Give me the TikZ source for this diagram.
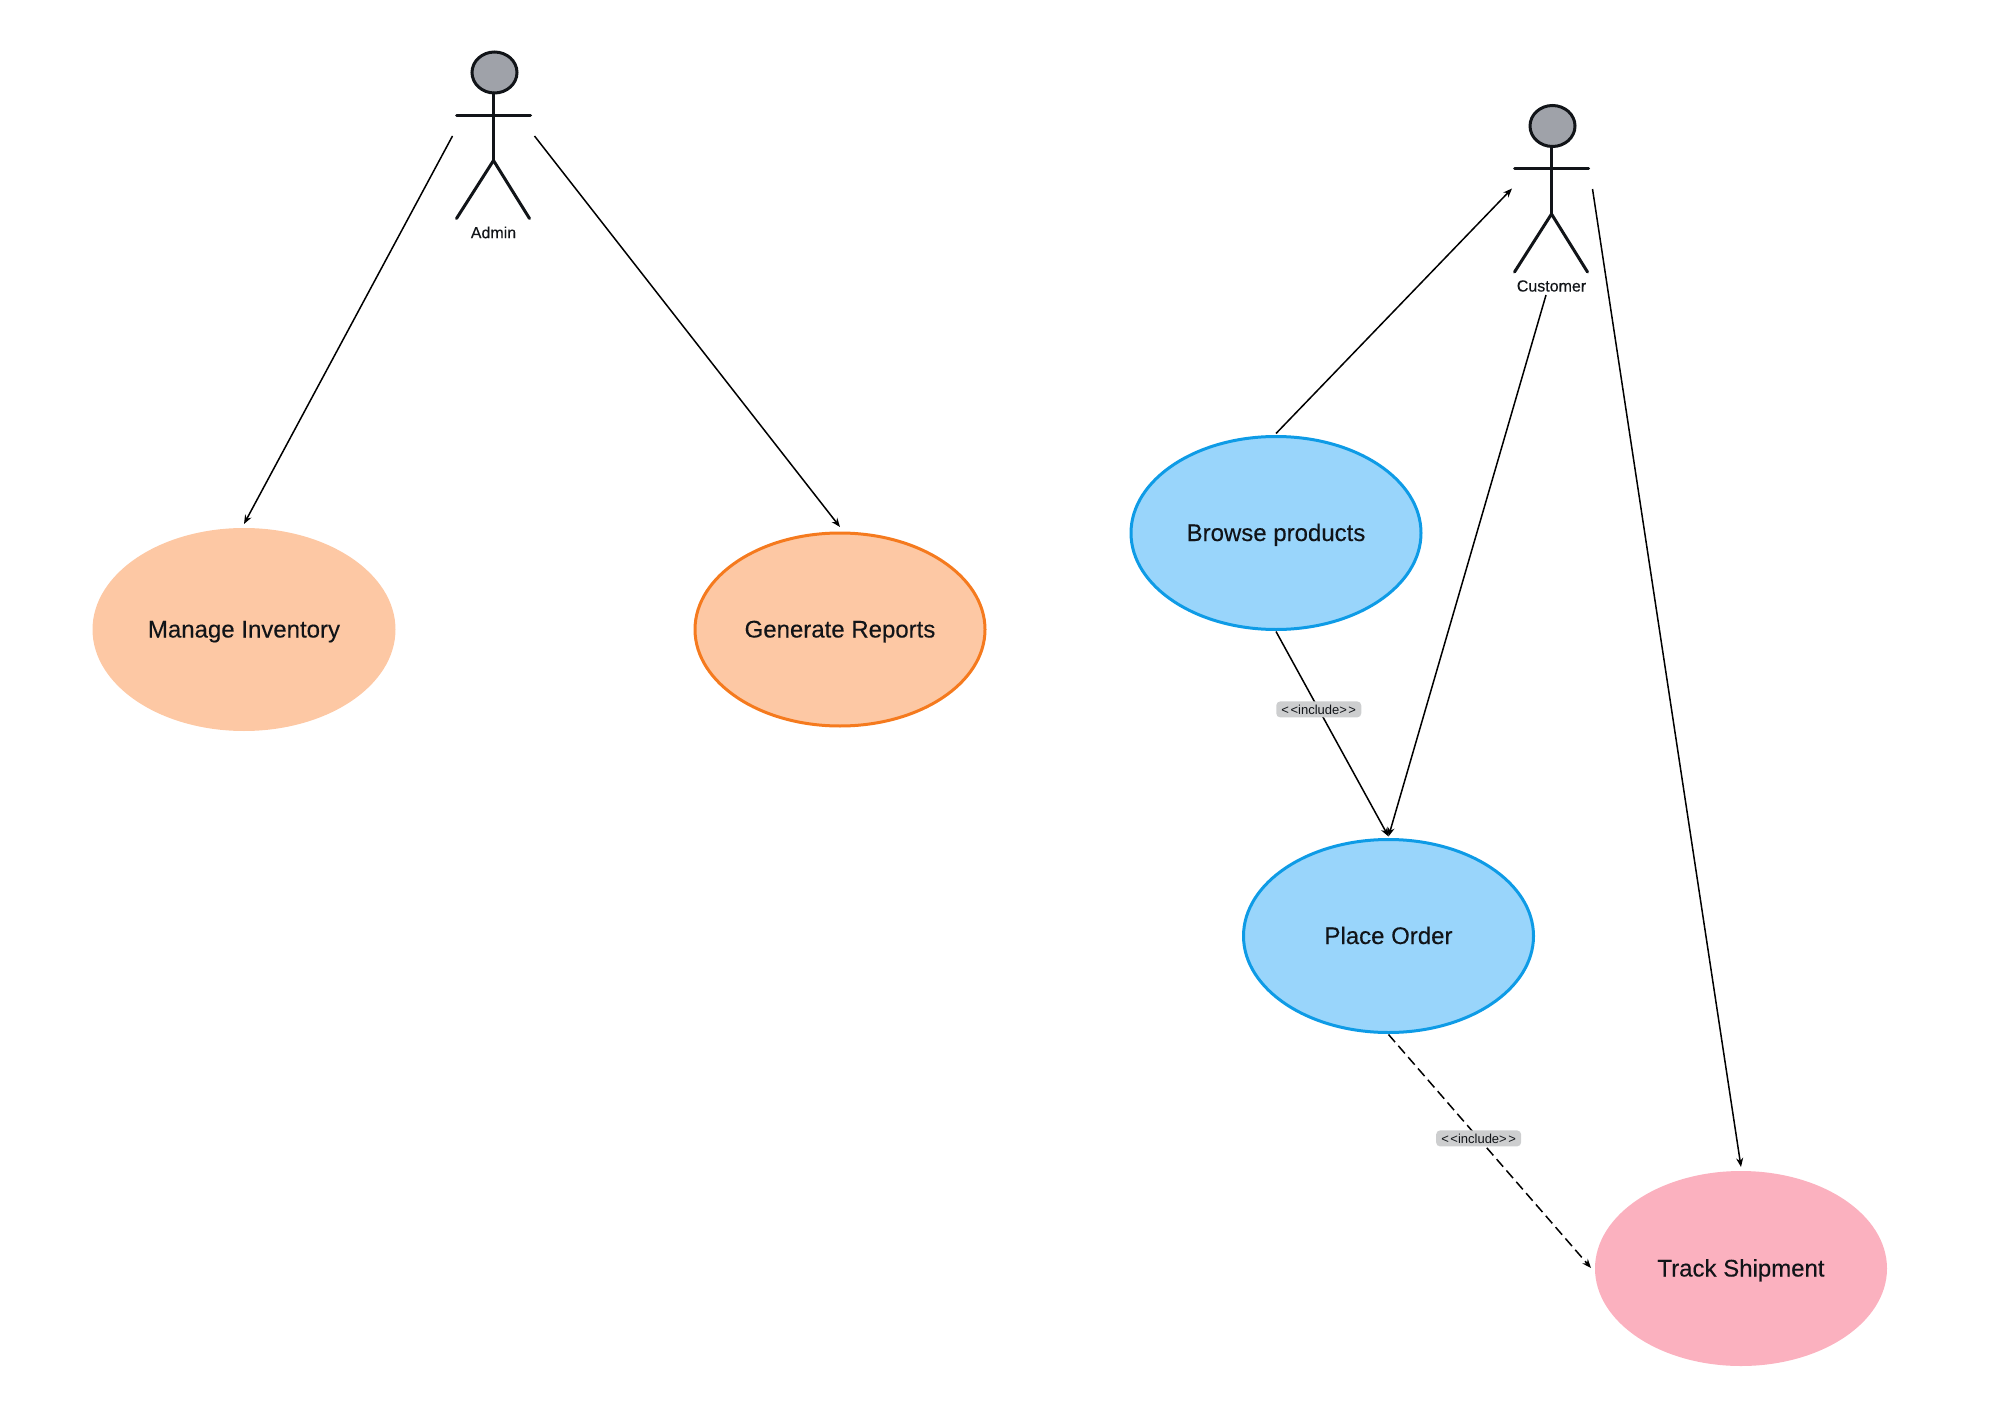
\documentclass[tikz,border=0pt]{standalone}
\usepackage{fontspec}
\setmainfont{Liberation Sans}
\newfontfamily\mediumfont[FakeBold=0.25]{Liberation Sans}
\usetikzlibrary{shapes.geometric,arrows.meta}
\definecolor{orfill}{HTML}{FDC8A4}
\definecolor{orline}{HTML}{F57A1E}
\definecolor{blfill}{HTML}{99D5FB}
\definecolor{blline}{HTML}{0E9BE6}
\definecolor{pkfill}{HTML}{FBB1BF}
\definecolor{headgray}{HTML}{9FA2A9}
\definecolor{ink}{HTML}{111418}
\definecolor{tagfill}{HTML}{CDCECF}
\tikzset{
  x=1pt,y=-1pt,
  usecase/.style={ellipse,inner sep=0pt,outer sep=0pt,text=ink,font=\mediumfont\fontsize{24}{28}\selectfont,line width=3pt,text height=18pt,text depth=2pt},
  limb/.style={draw=ink,line width=3pt,line cap=round},
  actorhead/.style={ellipse,inner sep=0pt,outer sep=0pt,draw=ink,fill=headgray,line width=3pt,minimum width=45pt,minimum height=41pt},
  actorname/.style={text=ink,font=\mediumfont\fontsize{16}{18}\selectfont,inner sep=0pt},
  assoc/.style={draw=black,line width=1.5pt,-{Stealth[length=9pt,width=7pt]}},
  tag/.style={fill=tagfill,rounded corners=4pt,inner sep=0pt,minimum width=85pt,minimum height=16pt,text=ink,font=\fontsize{13}{14}\selectfont},
}
\newcommand{\stickfigure}[4]{% name, x, y, label
  \node[actorhead] (#1head) at (#2,#3) {};
  \coordinate (#1neck) at (#2-1,#3+20.5);
  \coordinate (#1hip) at (#2-1,#3+88);
  \coordinate (#1armL) at (#2-38,#3+43);
  \coordinate (#1armR) at (#2+36,#3+43);
  \coordinate (#1legL) at (#2-38,#3+146);
  \coordinate (#1legR) at (#2+35,#3+146);
  \draw[limb] (#1neck) -- (#1hip);
  \draw[limb] (#1armL) -- (#1armR);
  \draw[limb] (#1legL) -- (#1hip) -- (#1legR);
  \node[actorname] (#1name) at (#2-1,#3+160) {#4};
}
\begin{document}
\begin{tikzpicture}
\useasboundingbox (0,0) rectangle (2000,1404);
\node[usecase,fill=orfill,minimum width=303pt,minimum height=203pt] (manage) at (244,629.5) {Manage Inventory};
\node[usecase,fill=orfill,draw=orline,minimum width=290pt,minimum height=193pt] (reports) at (840,629.5) {Generate Reports};
\node[usecase,fill=blfill,draw=blline,minimum width=290pt,minimum height=193pt] (browse) at (1276,533) {Browse products};
\node[usecase,fill=blfill,draw=blline,minimum width=290pt,minimum height=193pt] (order) at (1388.5,936) {Place Order};
\node[usecase,fill=pkfill,minimum width=292pt,minimum height=195pt] (track) at (1741,1268.5) {Track Shipment};
\stickfigure{admin}{494.5}{72.5}{Admin}
\stickfigure{cust}{1552.5}{126}{Customer}
\coordinate (adminOutL) at (452.5,136);
\coordinate (adminOutR) at (534.5,136);
\coordinate (custInL) at (1512,188.5);
\coordinate (custOutB) at (1546,295);
\coordinate (custOutR) at (1592.5,189);
\coordinate (trackIn) at (1591,1268);
\draw[assoc] (adminOutL) -- ([yshift=4pt]manage.north);
\draw[assoc] (adminOutR) -- ([yshift=6pt]reports.north);
\draw[assoc] ([yshift=3pt]browse.north) -- (custInL);
\draw[assoc] (custOutB) -- ([yshift=3pt]order.north);
\draw[assoc] (custOutR) -- ([yshift=4pt]track.north);
\draw[assoc] ([yshift=-2pt]browse.south) -- node[pos=.38,tag] (tagA) {<\kern1.5pt<include>\kern1.5pt>} ([yshift=3pt]order.north);
\draw[assoc,dash pattern=on 10pt off 5pt] ([yshift=-2pt]order.south) -- node[pos=.445,tag] (tagB) {<\kern1.5pt<include>\kern1.5pt>} (trackIn);
\end{tikzpicture}
\end{document}
